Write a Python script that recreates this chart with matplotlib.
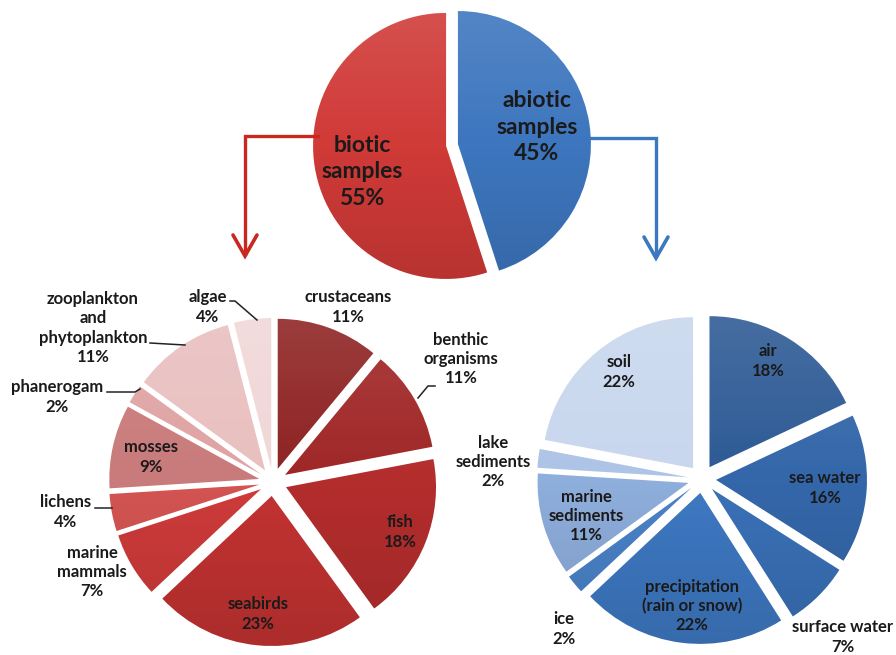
import numpy as np
import matplotlib.pyplot as plt

# top pie: sample types
top_labels = ["biotic\nsamples\n55%", "abiotic\nsamples\n45%"]
top_values = [55, 45]

# biotic breakdown (clockwise from 12 o'clock)
bio_labels = ["crustaceans", "benthic\norganisms", "fish", "seabirds",
              "marine\nmammals", "lichens", "mosses", "phanerogam",
              "zooplankton\nand\nphytoplankton", "algae"]
bio_values = [11, 11, 18, 23, 7, 4, 9, 2, 11, 4]

# abiotic breakdown (clockwise from 12 o'clock)
abio_labels = ["air", "sea water", "surface water", "precipitation\n(rain or snow)",
               "ice", "marine\nsediments", "lake\nsediments", "soil"]
abio_values = [18, 16, 7, 22, 2, 11, 2, 22]

W, H = 896, 655

top_colors = ["#D03A37", "#3D76BE"]
bio_colors = ["#8E2222", "#A02626", "#B42D2D", "#C33332", "#CE3B3A",
              "#D35452", "#C97A7A", "#DFA3A3", "#E9BFBF", "#F1D7D7"]
abio_colors = ["#2D5A95", "#3467AA", "#3A71B8", "#3E79C3", "#4A83C9",
               "#8EAEDC", "#AEC4E6", "#C8D7EE"]

plt.rcParams["font.family"] = ["Lato", "DejaVu Sans"]
plt.rcParams["font.weight"] = "bold"

fig = plt.figure(figsize=(W / 100, H / 100), dpi=100)
ax = fig.add_axes([0, 0, 1, 1])


def Y(y):
    return H - y


# soft top-light / bottom-dark shading laid over each wedge
t = np.linspace(0, 1, 64)
shade = np.zeros((64, 2, 4))
shade[:, :, :3] = np.where(t < 0.5, 1.0, 0.0)[:, None, None]
shade[:, :, 3] = (np.abs(t - 0.5) * 0.24)[:, None]


def draw_pie(values, colors, cx, cy, r, gap, counterclock=False):
    wedges, _ = ax.pie(values, colors=colors, startangle=90,
                       counterclock=counterclock, center=(cx, Y(cy)),
                       radius=r, explode=[gap] * len(values),
                       wedgeprops=dict(linewidth=0))
    for w in wedges:
        im = ax.imshow(shade, extent=(cx - r - gap, cx + r + gap,
                                      Y(cy) - r - gap, Y(cy) + r + gap),
                       origin="upper", aspect="auto", zorder=w.get_zorder() + 0.1,
                       interpolation="bilinear")
        im.set_clip_path(w)


draw_pie(top_values, top_colors, 452, 145, 133, 6, counterclock=True)
draw_pie(bio_values, bio_colors, 273, 482, 150, 14)
draw_pie(abio_values, abio_colors, 702, 479, 151, 14)

txt = dict(ha="center", va="center", color="#1a1a1a", fontweight="bold",
           zorder=5)

# top labels
ax.text(362, Y(172), top_labels[0], fontsize=16.5, linespacing=1.3, **txt)
ax.text(537, Y(127), top_labels[1], fontsize=16.5, linespacing=1.3, **txt)

# biotic labels
bio_pos = [(348, 307), (461, 359), (400, 532), (258, 614), (92, 572),
           (66, 512), (151, 457), (57, 397), (93, 328), (208, 307)]
for lab, v, (x, y) in zip(bio_labels, bio_values, bio_pos):
    ax.text(x, Y(y), f"{lab}\n{v}%", fontsize=12, linespacing=1.25, **txt)

# abiotic labels
abio_pos = [(768, 361), (825, 488), (843, 637), (692, 606), (564, 629),
            (586, 516), (493, 462), (619, 372)]
for lab, v, (x, y) in zip(abio_labels, abio_values, abio_pos):
    ax.text(x, Y(y), f"{lab}\n{v}%", fontsize=12, linespacing=1.25, **txt)

# leader lines
leaders = [
    [(435, 386), (428, 386), (418, 398)],  # benthic
    [(230, 301), (235, 301), (257, 320)],  # algae
    [(150, 343), (167, 344), (185, 345)],  # zooplankton
    [(107, 392), (135, 392), (140, 389)],  # phanerogam
    [(95, 508), (112, 508)],               # lichens
]
for pts in leaders:
    ax.plot([p[0] for p in pts], [Y(p[1]) for p in pts], color="#222222",
            lw=1.1, zorder=5)

# arrows
red, blue = "#C8281E", "#3A78C0"
ax.plot([318, 245, 245], [Y(136), Y(136), Y(254)], color=red, lw=2.4,
        solid_joinstyle="miter")
ax.plot([233, 245, 257], [Y(235), Y(256), Y(235)], color=red, lw=2.6,
        solid_joinstyle="miter", solid_capstyle="round")
ax.plot([590, 656, 656], [Y(138), Y(138), Y(256)], color=blue, lw=2.4,
        solid_joinstyle="miter")
ax.plot([644, 656, 668], [Y(237), Y(258), Y(237)], color=blue, lw=2.6,
        solid_joinstyle="miter", solid_capstyle="round")

ax.set_xlim(0, W)
ax.set_ylim(0, H)
ax.set_aspect("equal")
ax.axis("off")

fig.savefig("out.png", dpi=100, facecolor="white")
